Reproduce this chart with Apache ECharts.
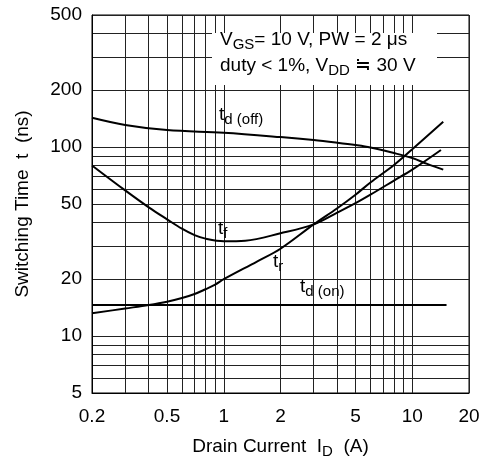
<!DOCTYPE html>
<html>
<head>
<meta charset="utf-8">
<script src="https://cdn.jsdelivr.net/npm/echarts@6/dist/echarts.min.js"></script>
<style>html,body{margin:0;padding:0;background:#fff}#c{width:488px;height:460px}</style>
</head>
<body>
<div id="c"></div>
<script>
// ---- data ----
const xTickVals = [0.2, 0.5, 1, 2, 5, 10, 20];
const xTickLabels = ['0.2', '0.5', '1', '2', '5', '10', '20'];
const xGridVals = [0.2, 0.3, 0.4, 0.5, 0.6, 0.7, 0.8, 0.9, 1, 2, 3, 4, 5, 6, 7, 8, 9, 10, 20];
const yTickVals = [5, 10, 20, 50, 100, 200, 500];
const yTickLabels = ['5', '10', '20', '50', '100', '200', '500'];
const yGridVals = [5, 6, 7, 8, 9, 10, 20, 30, 40, 50, 60, 70, 80, 90, 100, 200, 300, 400, 500];

const tdOffX = [0.2, 0.3, 0.5, 1, 2, 3, 4, 5, 6, 8, 10, 12, 14.6];
const tdOffY = [143, 131, 123, 119, 113, 109, 105.5, 102.5, 99.5, 93, 87.5, 81.5, 76];
const tfX = [0.2, 0.3, 0.4, 0.5, 0.6, 0.7, 0.8, 1, 1.3, 2, 3, 4, 5, 6, 8, 10, 14.2];
const tfY = [80, 59, 48, 41.5, 37, 34.2, 32.8, 31.8, 32, 35, 39, 45, 50.5, 56, 66.5, 76, 96.6];
const trX = [0.2, 0.3, 0.4, 0.5, 0.6, 0.7, 0.8, 0.9, 1, 1.5, 2, 3, 4, 5, 6, 8, 10, 14.6];
const trY = [13.2, 14, 14.6, 15.2, 15.9, 16.7, 17.7, 18.7, 20, 24.8, 29, 39, 47.5, 56, 65, 80.5, 97.5, 136];
const tdOnX = [0.2, 15.2];
const tdOnY = [14.6, 14.6];

// ---- build ----
const FONT = '"Liberation Sans", Arial, sans-serif';
const pairs = (xs, ys) => xs.map((x, i) => [x, ys[i]]);
const fmt = (vals, labels) => v => {
  let best = 0, d = Infinity;
  vals.forEach((t, i) => { const e = Math.abs(Math.log(t) - Math.log(v)); if (e < d) { d = e; best = i; } });
  return d < 1e-3 ? labels[best] : '';
};
const rich = {
  m: { fontSize: 19, fontFamily: FONT, lineHeight: 22, verticalAlign: 'top', fill: '#000', color: '#000' },
  s: { fontSize: 15, fontFamily: FONT, lineHeight: 15, verticalAlign: 'bottom', padding: [9, 0, 0, 0], fill: '#000', color: '#000' }
};
const txt = (x, y, s) => ({ type: 'text', x, y, z: 110, style: { text: s, rich, align: 'left', verticalAlign: 'top', fill: '#000' } });

const lineSeries = (name, xs, ys, smooth) => ({
  name, type: 'line', data: pairs(xs, ys), showSymbol: false, smooth,
  lineStyle: { color: '#000', width: 2 }, z: 5, animation: false
});

const chart = echarts.init(document.getElementById('c'), null, { renderer: 'canvas' });
chart.setOption({
  animation: false,
  backgroundColor: '#fff',
  grid: { left: 92, right: 19, top: 15, bottom: 67, containLabel: false, outerBoundsMode: 'none', show: true, borderColor: '#000', borderWidth: 1 },
  xAxis: {
    type: 'log', logBase: 10, min: 0.2, max: 20,
    name: '{m|Drain Current  I}{s|D}{m|  (A)}', nameLocation: 'middle', nameGap: 44,
    nameTextStyle: { rich },
    axisLine: { show: true, lineStyle: { color: '#000', width: 1 } },
    axisTick: { show: false, customValues: xGridVals },
    axisLabel: { customValues: xTickVals, formatter: fmt(xTickVals, xTickLabels), fontSize: 19, fontFamily: FONT, color: '#000', margin: 14 },
    splitLine: { show: true, lineStyle: { color: '#222', width: 1 } },
    minorSplitLine: { show: false }
  },
  yAxis: {
    type: 'log', logBase: 10, min: 5, max: 500,
    name: 'Switching Time  t  (ns)', nameLocation: 'middle', nameGap: 60, nameRotate: 90,
    nameTextStyle: { fontSize: 19, fontFamily: FONT, color: '#000' },
    axisLine: { show: true, lineStyle: { color: '#000', width: 1 } },
    axisTick: { show: false, customValues: yGridVals },
    axisLabel: { customValues: yTickVals, formatter: fmt(yTickVals, yTickLabels), fontSize: 19, fontFamily: FONT, color: '#000', margin: 10 },
    splitLine: { show: true, lineStyle: { color: '#222', width: 1 } }
  },
  graphic: [
    { type: 'rect', shape: { x: 212, y: 33, width: 225, height: 52 }, style: { fill: '#fff' }, z: 100 },
    txt(220, 30.7, '{m|V}{s|GS}{m|= 10 V, PW = 2 μs}'),
    txt(220, 56.7, '{m|duty < 1%, V}{s|DD}{m| ≒ 30 V}'),
    txt(219, 105.4, '{m|t}{s|d (off)}'),
    txt(218, 219.4, '{m|t}{s|f}'),
    txt(273, 252.4, '{m|t}{s|r}'),
    txt(300, 277.4, '{m|t}{s|d (on)}')
  ],
  series: [
    lineSeries('td(off)', tdOffX, tdOffY, 0.35),
    lineSeries('tf', tfX, tfY, 0.35),
    lineSeries('tr', trX, trY, 0.35),
    lineSeries('td(on)', tdOnX, tdOnY, false)
  ]
});
</script>
</body>
</html>
